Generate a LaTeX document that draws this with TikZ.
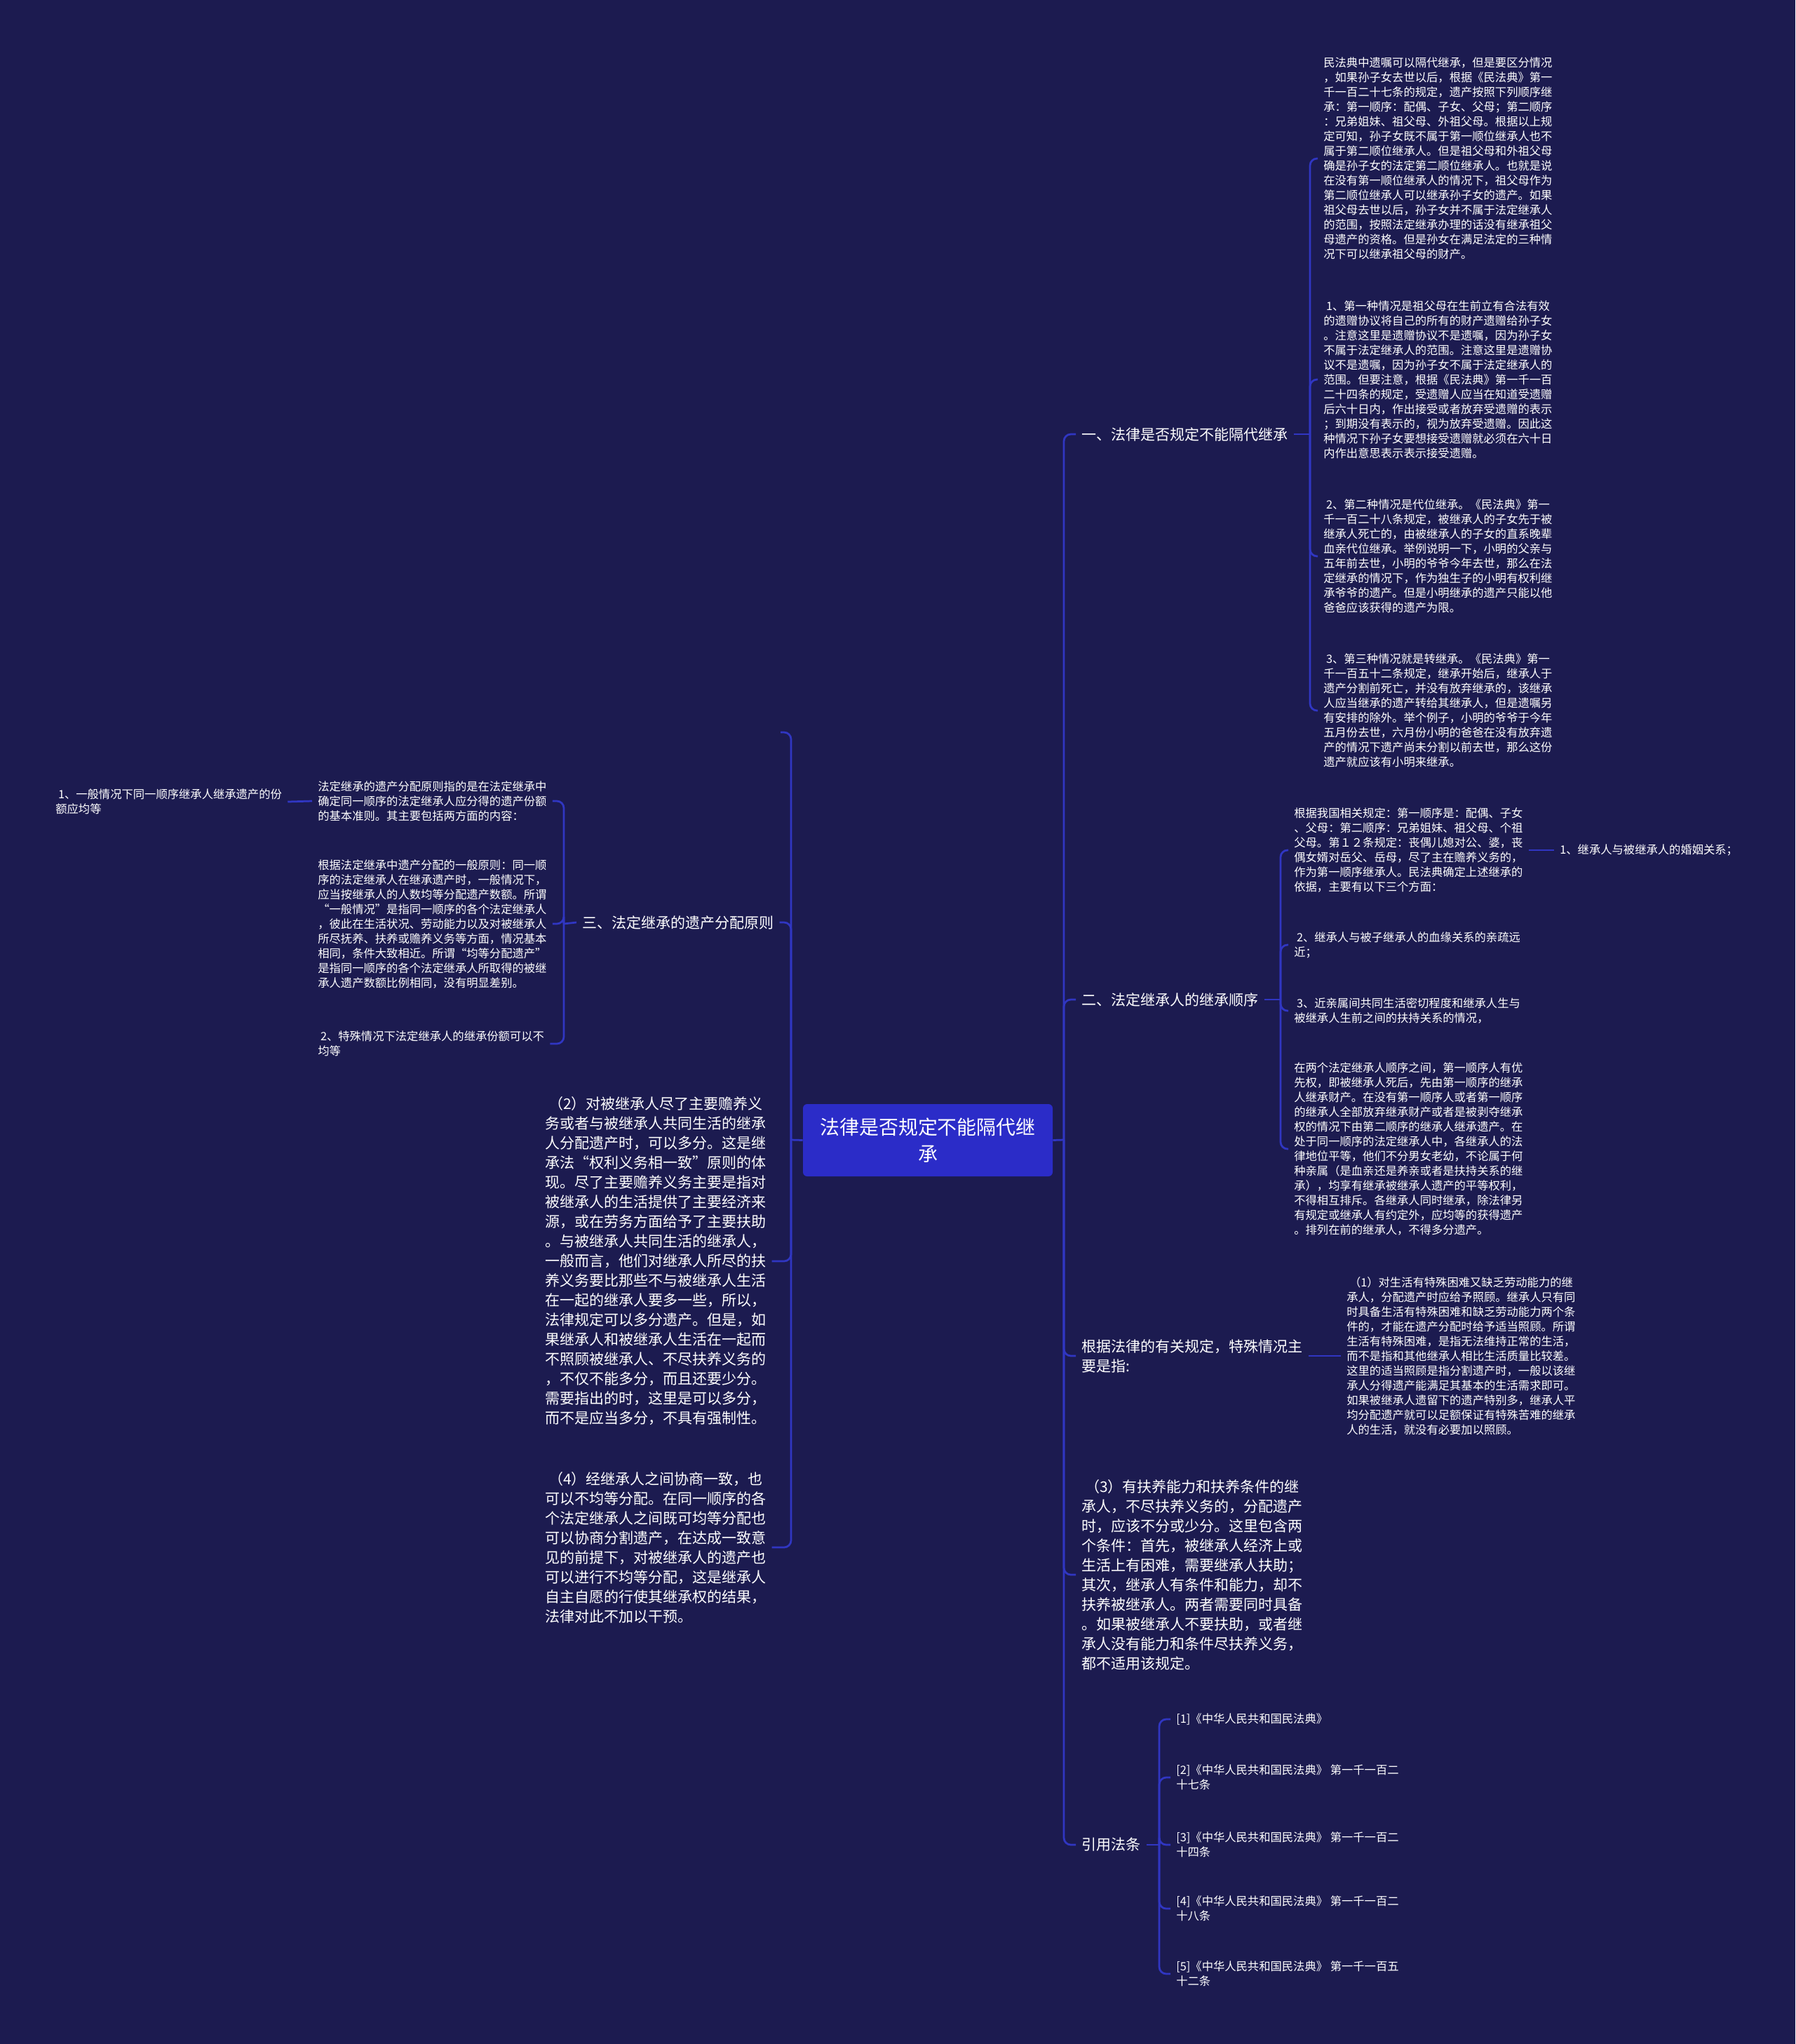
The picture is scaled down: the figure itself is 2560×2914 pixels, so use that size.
\documentclass[tikz,border=0pt]{standalone}
\usepackage{fontspec}
\setmainfont{Noto Sans CJK SC}
\definecolor{mapBg}{HTML}{1C1B50}
\definecolor{mapLine}{HTML}{3036C2}
\definecolor{mapRootFill}{HTML}{2B2CC8}
\tikzset{
  mapRoot/.style={rectangle, rounded corners=1.2mm, fill=mapRootFill, text=white, align=center, minimum width=71.2mm, minimum height=20.6mm, font=\fontsize{15.9pt}{21.6pt}\selectfont},
  mapMid/.style={text=white, align=left, anchor=west, inner xsep=1.6mm, inner ysep=0pt, font=\fontsize{11.95pt}{15.93pt}\selectfont},
  mapLeaf/.style={text=white, align=left, anchor=west, inner xsep=1.6mm, inner ysep=0pt, font=\fontsize{9.28pt}{11.95pt}\selectfont},
  mapLink/.style={draw=mapLine, line width=0.55mm, rounded corners=2mm},
}

\begin{document}
\begin{tikzpicture}[x=0.2mm, y=-0.2mm]
  \fill[mapBg] (0,0) rectangle (2560,2914);
  \useasboundingbox (0,0) rectangle (2560,2914);
  \node[mapRoot] (root) at (1323,1625.5) {法律是否规定不能隔代继\\承};
  \coordinate (jr) at (1517,1625);
  \coordinate (jl) at (1128,1625);

  \node[mapMid] (B1) at (1534,619) {一、法律是否规定不能隔代继承};
  \node[mapMid] (B2) at (1534,1425) {二、法定继承人的继承顺序};
  \node[mapMid] (B3) at (1534,1933) {根据法律的有关规定，特殊情况主\\要是指:};
  \node[mapMid] (B4) at (1534,2245) {\ （3）有扶养能力和扶养条件的继\\承人，不尽扶养义务的，分配遗产\\时，应该不分或少分。这里包含两\\个条件：首先，被继承人经济上或\\生活上有困难，需要继承人扶助；\\其次，继承人有条件和能力，却不\\扶养被继承人。两者需要同时具备\\。如果被继承人不要扶助，或者继\\承人没有能力和条件尽扶养义务，\\都不适用该规定。};
  \node[mapMid] (B5) at (1534,2630) {引用法条};

  \node[mapLeaf] (C11) at (1879,226) {民法典中遗嘱可以隔代继承，但是要区分情况\\，如果孙子女去世以后，根据《民法典》第一\\千一百二十七条的规定，遗产按照下列顺序继\\承：第一顺序：配偶、子女、父母；第二顺序\\：兄弟姐妹、祖父母、外祖父母。根据以上规\\定可知，孙子女既不属于第一顺位继承人也不\\属于第二顺位继承人。但是祖父母和外祖父母\\确是孙子女的法定第二顺位继承人。也就是说\\在没有第一顺位继承人的情况下，祖父母作为\\第二顺位继承人可以继承孙子女的遗产。如果\\祖父母去世以后，孙子女并不属于法定继承人\\的范围，按照法定继承办理的话没有继承祖父\\母遗产的资格。但是孙女在满足法定的三种情\\况下可以继承祖父母的财产。};
  \node[mapLeaf] (C12) at (1879,541) {\ 1、第一种情况是祖父母在生前立有合法有效\\的遗赠协议将自己的所有的财产遗赠给孙子女\\。注意这里是遗赠协议不是遗嘱，因为孙子女\\不属于法定继承人的范围。注意这里是遗赠协\\议不是遗嘱，因为孙子女不属于法定继承人的\\范围。但要注意，根据《民法典》第一千一百\\二十四条的规定，受遗赠人应当在知道受遗赠\\后六十日内，作出接受或者放弃受遗赠的表示\\；到期没有表示的，视为放弃受遗赠。因此这\\种情况下孙子女要想接受遗赠就必须在六十日\\内作出意思表示表示接受遗赠。};
  \node[mapLeaf] (C13) at (1879,793) {\ 2、第二种情况是代位继承。《民法典》第一\\千一百二十八条规定，被继承人的子女先于被\\继承人死亡的，由被继承人的子女的直系晚辈\\血亲代位继承。举例说明一下，小明的父亲与\\五年前去世，小明的爷爷今年去世，那么在法\\定继承的情况下，作为独生子的小明有权利继\\承爷爷的遗产。但是小明继承的遗产只能以他\\爸爸应该获得的遗产为限。};
  \node[mapLeaf] (C14) at (1879,1013) {\ 3、第三种情况就是转继承。《民法典》第一\\千一百五十二条规定，继承开始后，继承人于\\遗产分割前死亡，并没有放弃继承的，该继承\\人应当继承的遗产转给其继承人，但是遗嘱另\\有安排的除外。举个例子，小明的爷爷于今年\\五月份去世，六月份小明的爸爸在没有放弃遗\\产的情况下遗产尚未分割以前去世，那么这份\\遗产就应该有小明来继承。};
  \coordinate (j1) at (1868,619);

  \node[mapLeaf] (C21) at (1837,1212) {根据我国相关规定：第一顺序是：配偶、子女\\、父母：第二顺序：兄弟姐妹、祖父母、个祖\\父母。第１２条规定：丧偶儿媳对公、婆，丧\\偶女婿对岳父、岳母，尽了主在赡养义务的，\\作为第一顺序继承人。民法典确定上述继承的\\依据，主要有以下三个方面：};
  \node[mapLeaf] (C22) at (1837,1347) {\ 2、继承人与被子继承人的血缘关系的亲疏远\\近；};
  \node[mapLeaf] (C23) at (1837,1441) {\ 3、近亲属间共同生活密切程度和继承人生与\\被继承人生前之间的扶持关系的情况，};
  \node[mapLeaf] (C24) at (1837,1638) {在两个法定继承人顺序之间，第一顺序人有优\\先权，即被继承人死后，先由第一顺序的继承\\人继承财产。在没有第一顺序人或者第一顺序\\的继承人全部放弃继承财产或者是被剥夺继承\\权的情况下由第二顺序的继承人继承遗产。在\\处于同一顺序的法定继承人中，各继承人的法\\律地位平等，他们不分男女老幼，不论属于何\\种亲属（是血亲还是养亲或者是扶持关系的继\\承），均享有继承被继承人遗产的平等权利，\\不得相互排斥。各继承人同时继承，除法律另\\有规定或继承人有约定外，应均等的获得遗产\\。排列在前的继承人，不得多分遗产。};
  \node[mapLeaf] (D1) at (2216,1212) {1、继承人与被继承人的婚姻关系；};
  \coordinate (j2) at (1826,1425);

  \node[mapLeaf] (C31) at (1912,1933) {\ （1）对生活有特殊困难又缺乏劳动能力的继\\承人，分配遗产时应给予照顾。继承人只有同\\时具备生活有特殊困难和缺乏劳动能力两个条\\件的，才能在遗产分配时给予适当照顾。所谓\\生活有特殊困难，是指无法维持正常的生活，\\而不是指和其他继承人相比生活质量比较差。\\这里的适当照顾是指分割遗产时，一般以该继\\承人分得遗产能满足其基本的生活需求即可。\\如果被继承人遗留下的遗产特别多，继承人平\\均分配遗产就可以足额保证有特殊苦难的继承\\人的生活，就没有必要加以照顾。};

  \node[mapLeaf] (R1) at (1669,2451) {[1]《中华人民共和国民法典》};
  \node[mapLeaf] (R2) at (1669,2534) {[2]《中华人民共和国民法典》 第一千一百二\\十七条};
  \node[mapLeaf] (R3) at (1669,2630) {[3]《中华人民共和国民法典》 第一千一百二\\十四条};
  \node[mapLeaf] (R4) at (1669,2721) {[4]《中华人民共和国民法典》 第一千一百二\\十八条};
  \node[mapLeaf] (R5) at (1669,2814) {[5]《中华人民共和国民法典》 第一千一百五\\十二条};
  \coordinate (j5) at (1653,2630);

  \coordinate (L0) at (1113,1044);
  \node[mapMid] (L1) at (822,1315) {三、法定继承的遗产分配原则};
  \node[mapMid] (L2) at (769,1798) {\ （2）对被继承人尽了主要赡养义\\务或者与被继承人共同生活的继承\\人分配遗产时，可以多分。这是继\\承法“权利义务相一致”原则的体\\现。尽了主要赡养义务主要是指对\\被继承人的生活提供了主要经济来\\源，或在劳务方面给予了主要扶助\\。与被继承人共同生活的继承人，\\一般而言，他们对继承人所尽的扶\\养义务要比那些不与被继承人生活\\在一起的继承人要多一些，所以，\\法律规定可以多分遗产。但是，如\\果继承人和被继承人生活在一起而\\不照顾被继承人、不尽扶养义务的\\，不仅不能多分，而且还要少分。\\需要指出的时，这里是可以多分，\\而不是应当多分，不具有强制性。};
  \node[mapMid] (L3) at (769,2206) {\ （4）经继承人之间协商一致，也\\可以不均等分配。在同一顺序的各\\个法定继承人之间既可均等分配也\\可以协商分割遗产，在达成一致意\\见的前提下，对被继承人的遗产也\\可以进行不均等分配，这是继承人\\自主自愿的行使其继承权的结果，\\法律对此不加以干预。};

  \node[mapLeaf] (M1) at (445,1142) {法定继承的遗产分配原则指的是在法定继承中\\确定同一顺序的法定继承人应分得的遗产份额\\的基本准则。其主要包括两方面的内容：};
  \node[mapLeaf] (M2) at (445,1317) {根据法定继承中遗产分配的一般原则：同一顺\\序的法定继承人在继承遗产时，一般情况下，\\应当按继承人的人数均等分配遗产数额。所谓\\“一般情况”是指同一顺序的各个法定继承人\\，彼此在生活状况、劳动能力以及对被继承人\\所尽抚养、扶养或赡养义务等方面，情况基本\\相同，条件大致相近。所谓“均等分配遗产”\\是指同一顺序的各个法定继承人所取得的被继\\承人遗产数额比例相同，没有明显差别。};
  \node[mapLeaf] (M3) at (445,1488) {\ 2、特殊情况下法定继承人的继承份额可以不\\均等};
  \node[mapLeaf] (N1) at (71,1143) {\ 1、一般情况下同一顺序继承人继承遗产的份\\额应均等};
  \coordinate (j3) at (804,1317);

  \draw[mapLink] (root.east) -- (jr);
  \draw[mapLink] (root.west) -- (jl);
  \draw[mapLink] (jr) |- (B1.west);
  \draw[mapLink] (jr) |- (B2.west);
  \draw[mapLink] (jr) |- (B3.west);
  \draw[mapLink] (jr) |- (B4.west);
  \draw[mapLink] (jr) |- (B5.west);
  \draw[mapLink] (jl) |- (L0);
  \draw[mapLink] (jl) |- (L1.east);
  \draw[mapLink] (jl) |- (L2.east);
  \draw[mapLink] (jl) |- (L3.east);

  \draw[mapLink] (B1.east) -- (j1);
  \draw[mapLink] (j1) |- (C11.west);
  \draw[mapLink] (j1) |- (C12.west);
  \draw[mapLink] (j1) |- (C13.west);
  \draw[mapLink] (j1) |- (C14.west);

  \draw[mapLink] (B2.east) -- (j2);
  \draw[mapLink] (j2) |- (C21.west);
  \draw[mapLink] (j2) |- (C22.west);
  \draw[mapLink] (j2) |- (C23.west);
  \draw[mapLink] (j2) |- (C24.west);
  \draw[mapLink] (C21.east) -- (D1.west);

  \draw[mapLink] (B3.east) -- (C31.west);

  \draw[mapLink] (B5.east) -- (j5);
  \draw[mapLink] (j5) |- (R1.west);
  \draw[mapLink] (j5) |- (R2.west);
  \draw[mapLink] (j5) |- (R3.west);
  \draw[mapLink] (j5) |- (R4.west);
  \draw[mapLink] (j5) |- (R5.west);

  \draw[mapLink] (L1.west) -- (j3);
  \draw[mapLink] (j3) |- (M1.east);
  \draw[mapLink] (j3) |- (M2.east);
  \draw[mapLink] (j3) |- (M3.east);
  \draw[mapLink] (M1.west) -- (N1.east);
\end{tikzpicture}
\end{document}
